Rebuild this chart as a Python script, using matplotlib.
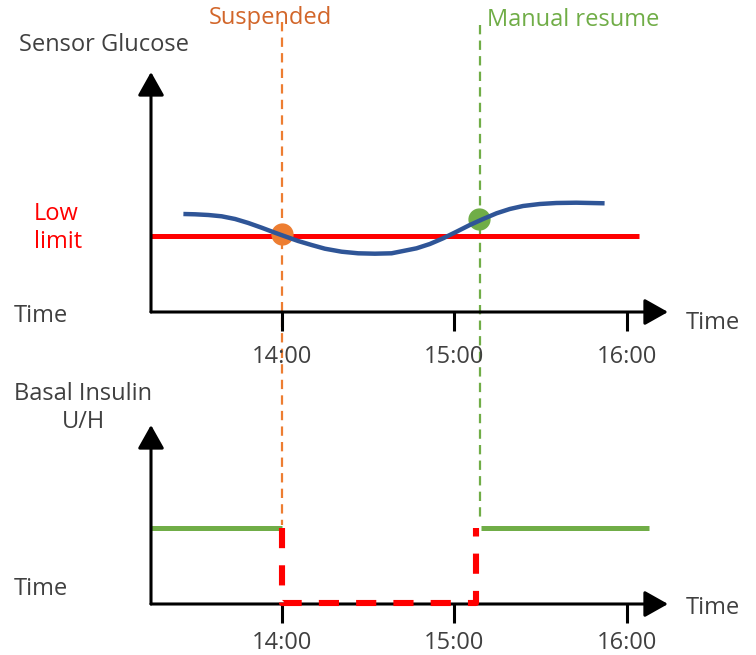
import matplotlib
matplotlib.use("Agg")
import numpy as np
from matplotlib import pyplot as plt

plt.rcParams['font.family'] = ['Open Sans', 'DejaVu Sans']

# time in hours, values in arbitrary units
tick_hours = [14, 15, 16]
tick_labels = ['14:00', '15:00', '16:00']

glucose_t = [13.428, 13.496, 13.573, 13.650, 13.728, 13.805, 13.882, 13.959,
             14.017, 14.094, 14.172, 14.249, 14.346, 14.442, 14.539, 14.636,
             14.703, 14.781, 14.858, 14.935, 15.013, 15.090, 15.167, 15.245,
             15.322, 15.399, 15.496, 15.592, 15.708, 15.872]
glucose_v = [9.8, 9.77, 9.7, 9.57, 9.3, 8.9, 8.43, 7.93,
             7.57, 7.1, 6.7, 6.33, 6.03, 5.87, 5.83, 5.87,
             6.1, 6.37, 6.8, 7.37, 8.03, 8.7, 9.3, 9.87,
             10.3, 10.6, 10.8, 10.9, 10.93, 10.87]
low_limit = 7.63
low_limit_span = [13.24, 16.07]

suspend_t = 14.0
suspend_v = 7.76
resume_t = 15.145
resume_v = 9.3

basal_rate = 7.6
basal_before = [13.24, 14.0]
basal_after = [15.155, 16.13]
basal_off = 0.15

GREY = '#404040'
ORANGE = '#ED7D31'
DARK_ORANGE = '#D2662A'
GREEN = '#70AD47'
BLUE = '#2F5597'
RED = '#FF0000'
FS = 17

W, H = 756, 655
fig = plt.figure(figsize=(W / 100, H / 100), dpi=100)


def px_axes(left, right, bottom, top):
    return fig.add_axes([left / W, 1 - bottom / H, (right - left) / W, (bottom - top) / H])


def arrow_axes(ax, pad):
    for s in ax.spines.values():
        s.set_visible(False)
    kw = dict(arrowstyle='-|>,head_length=0.8,head_width=0.45', lw=2.2, color='black',
              mutation_scale=18, shrinkA=0, shrinkB=0)
    ax.annotate('', xy=(1, 0), xytext=(0, 0), xycoords='axes fraction', arrowprops=kw)
    ax.annotate('', xy=(0, 1), xytext=(0, 0), xycoords='axes fraction', arrowprops=kw)
    ax.set_yticks([])
    ax.set_xticks(tick_hours)
    ax.set_xticklabels(tick_labels)
    ax.tick_params(axis='x', direction='out', length=13.5, width=2.2, color='black',
                   labelsize=FS, labelcolor=GREY, pad=pad)
    ax.set_facecolor('none')


# top panel: sensor glucose
ax1 = px_axes(151, 668, 312, 72)
ax1.set_xlim(13.24, 16.24)
ax1.set_ylim(0, 24)
arrow_axes(ax1, 10)
ax1.plot(low_limit_span, [low_limit, low_limit], color=RED, lw=3.6, solid_capstyle='butt', zorder=2)
ax1.plot(glucose_t, glucose_v, color=BLUE, lw=3.2, solid_capstyle='butt',
         solid_joinstyle='round', zorder=3)
ax1.plot([suspend_t], [suspend_v], 'o', color=ORANGE, ms=15, zorder=2.5)
ax1.plot([resume_t], [resume_v], 'o', color=GREEN, ms=15, zorder=2.5)

# dashed event lines, running down into the lower panel
ax1.plot([suspend_t, suspend_t], [29.0, -21.3], color=ORANGE, lw=1.6,
         dashes=(4.2, 2.8), clip_on=False, zorder=1)
ax1.plot([resume_t + 0.005, resume_t + 0.005], [28.7, -21.0], color=GREEN, lw=1.6,
         dashes=(4.2, 2.8), clip_on=False, zorder=1)

# bottom panel: basal insulin
ax2 = px_axes(151, 668, 604, 425)
ax2.set_xlim(13.24, 16.24)
ax2.set_ylim(0, 17.9)
arrow_axes(ax2, 6)
ax2.plot(basal_before, [basal_rate, basal_rate], color=GREEN, lw=3.6, solid_capstyle='butt')
ax2.plot(basal_after, [basal_rate, basal_rate], color=GREEN, lw=3.6, solid_capstyle='butt')
ax2.plot([suspend_t, suspend_t, basal_after[0] - 0.03, basal_after[0] - 0.03],
         [basal_rate, basal_off, basal_off, basal_rate],
         color=RED, lw=4.4, dashes=(3.3, 2.8), solid_capstyle='butt', zorder=6, clip_on=False)

# labels
def label(x, y, s, color=GREY, **kw):
    fig.text(x / W, 1 - y / H, s, color=color, fontsize=FS, va='center', **kw)


label(19, 45, 'Sensor Glucose')
label(209, 18, 'Suspended', color=DARK_ORANGE)
label(487, 20, 'Manual resume', color=GREEN)
label(34, 228, 'Low\nlimit', color=RED, linespacing=1.2)
label(14, 316, 'Time')
label(686, 323, 'Time')
label(83, 408, 'Basal Insulin\nU/H', ha='center', linespacing=1.25)
label(14, 589, 'Time')
label(686, 608, 'Time')

fig.savefig('out.png', dpi=100)
